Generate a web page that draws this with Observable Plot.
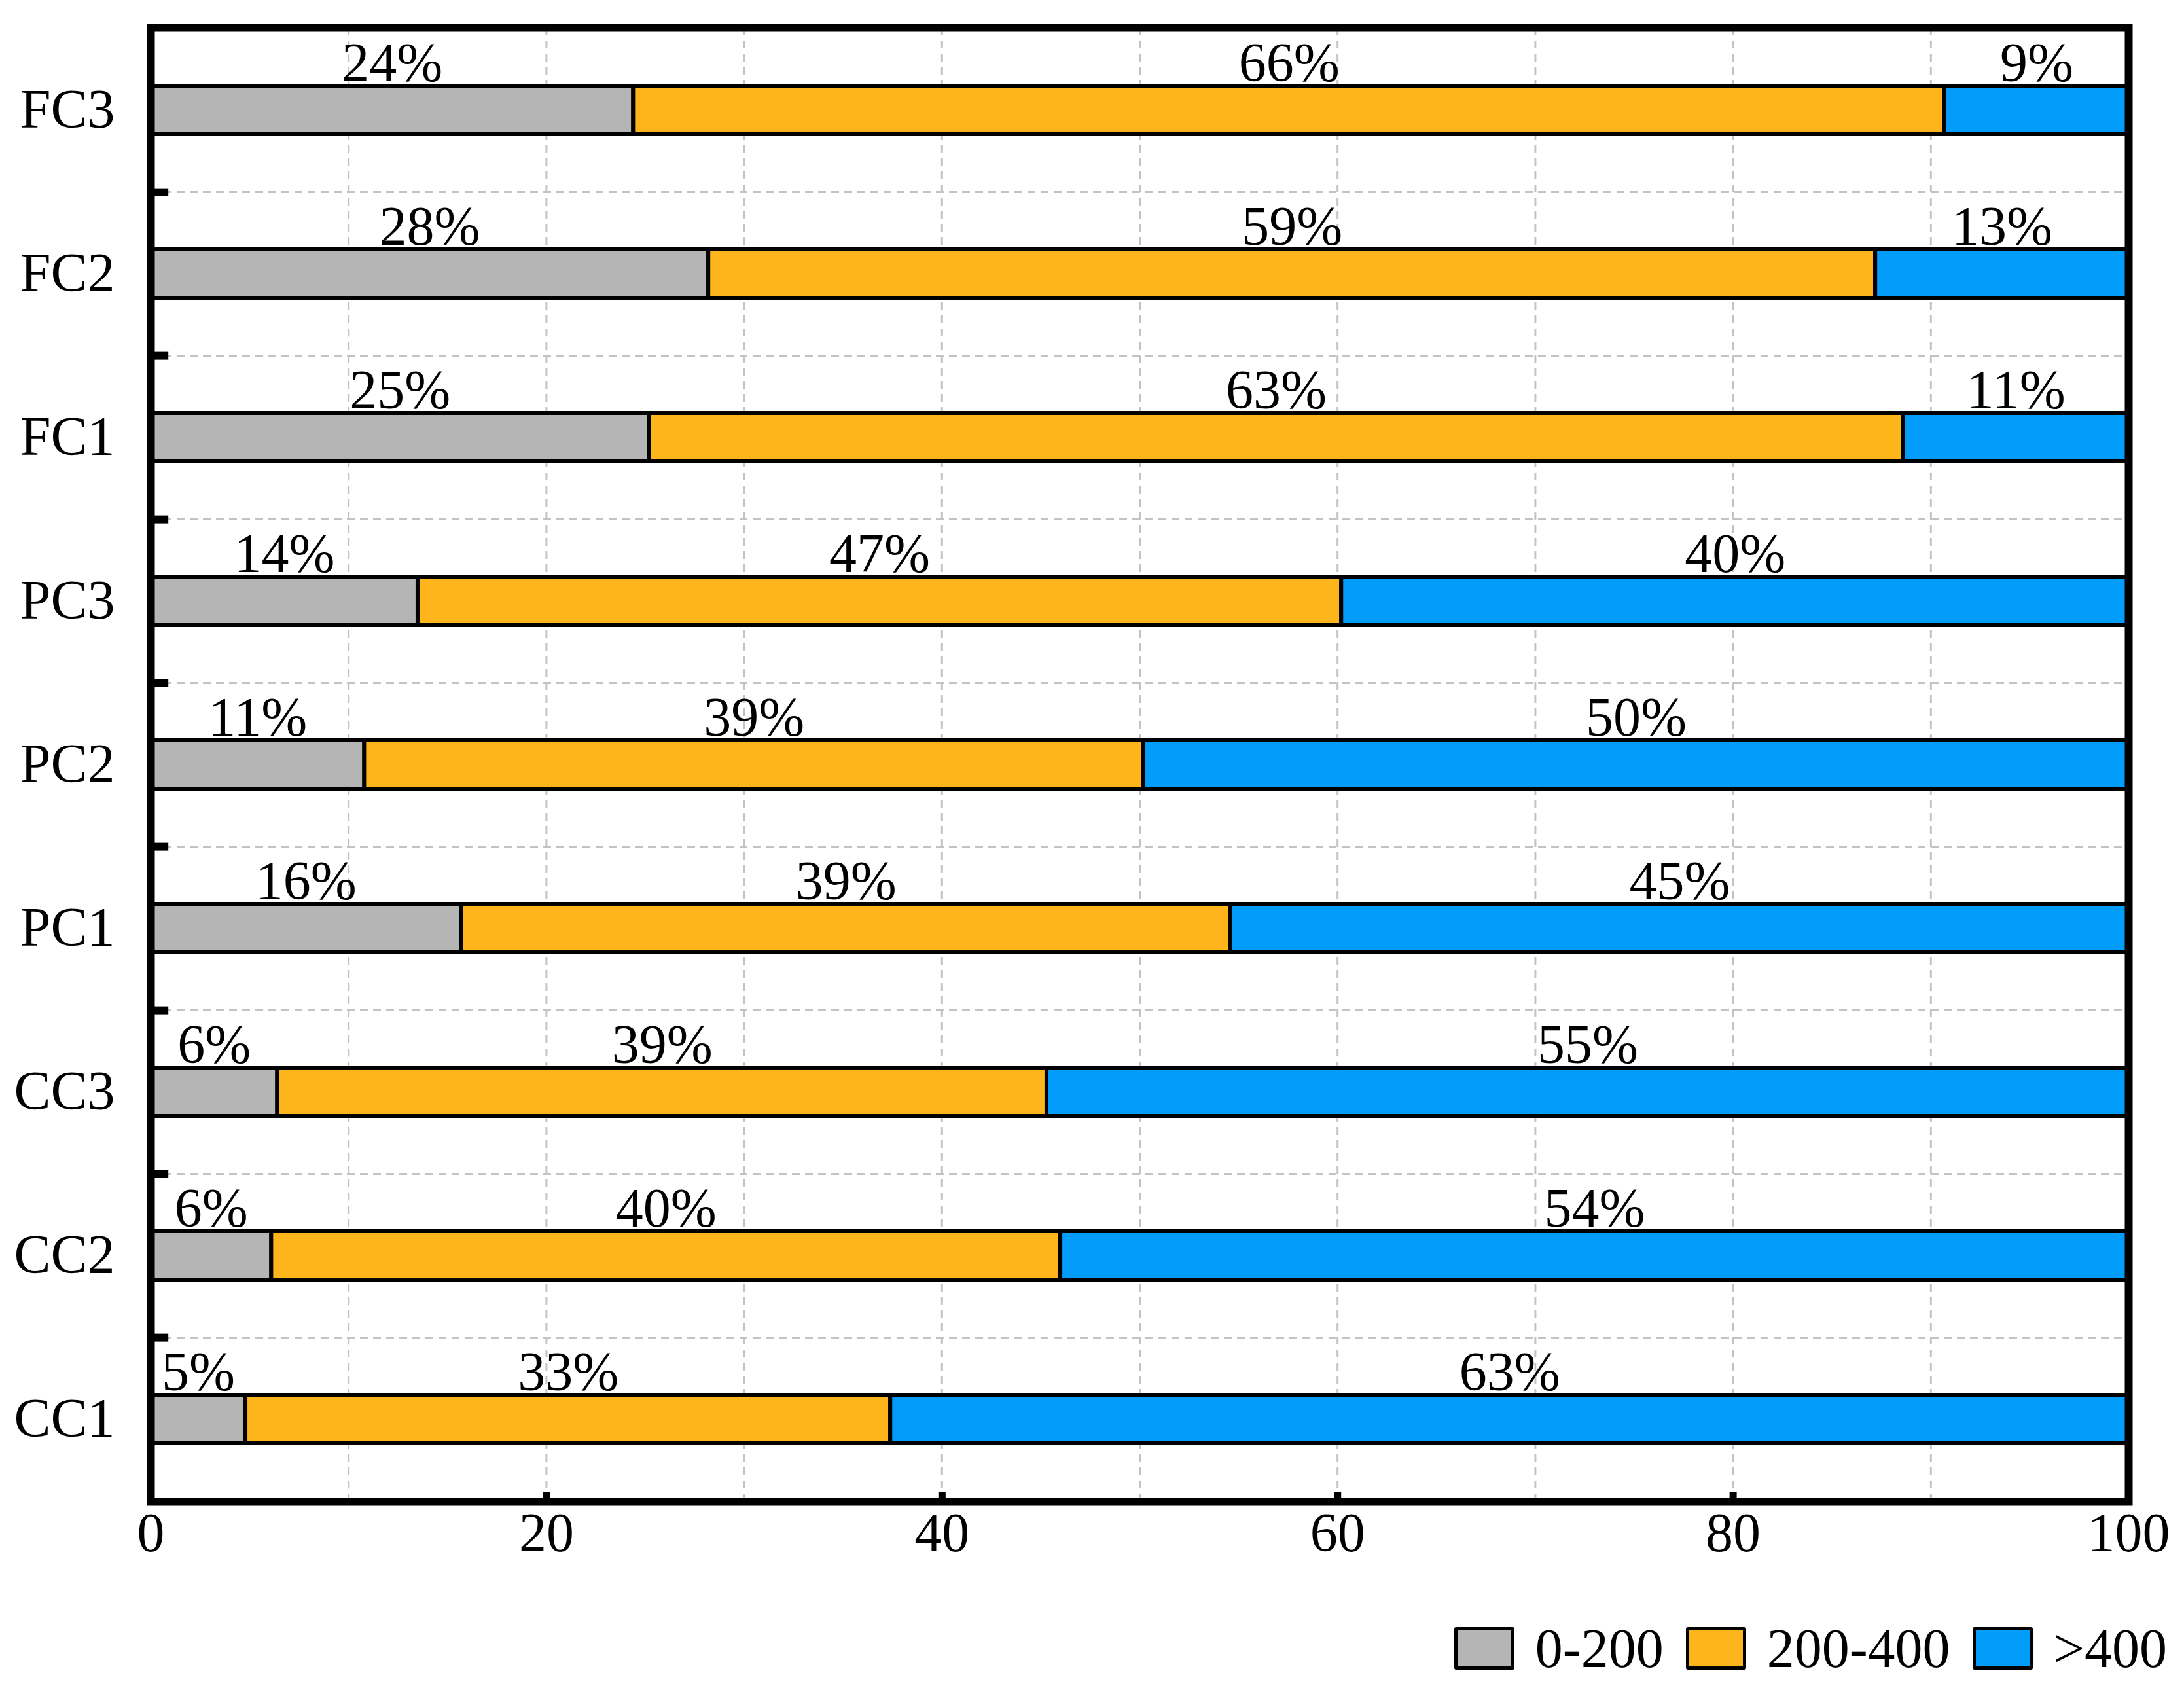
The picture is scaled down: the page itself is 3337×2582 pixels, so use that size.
<!DOCTYPE html>
<html>
<head>
<meta charset="utf-8">
<script src="https://cdn.jsdelivr.net/npm/d3@7"></script>
<script src="https://cdn.jsdelivr.net/npm/@observablehq/plot@0.6"></script>
<style>
  html, body { margin: 0; padding: 0; background: #fff; }
  #chart { width: 3337px; }
  .legend {
    display: flex; justify-content: flex-end; align-items: center;
    margin-top: 66px; padding-right: 26px; height: 65px;
    font-family: "Liberation Serif", "Times New Roman", serif; font-size: 84px; color: #000;
  }
  .item { display: flex; align-items: center; margin-left: 34px; }
  .sw { width: 92px; height: 65px; box-sizing: border-box; border: 5px solid #000; border-radius: 3px; }
  .lab { margin-left: 32px; line-height: 1; }
</style>
</head>
<body>
<div id="chart"></div>
<script>
// ---- data ----
const categories = ["FC3", "FC2", "FC1", "PC3", "PC2", "PC1", "CC3", "CC2", "CC1"];
const series = ["0-200", "200-400", ">400"];
const colors = ["#b5b5b5", "#feb51c", "#029cfa"];
const share0to200   = [24.4, 28.2, 25.2, 13.5, 10.8, 15.7, 6.4, 6.1, 4.8];
const share200to400 = [66.3, 59.0, 63.4, 46.7, 39.4, 38.9, 38.9, 39.9, 32.6];
const shareOver400  = [9.3, 12.8, 11.4, 39.8, 49.8, 45.4, 54.7, 54.0, 62.6];
const xTicks = [0, 20, 40, 60, 80, 100];
const xGrid = [10, 20, 30, 40, 50, 60, 70, 80, 90];

const seriesValues = [share0to200, share200to400, shareOver400];
const rows = [];
categories.forEach((c, i) => {
  seriesValues.forEach((arr, k) => rows.push({category: c, series: series[k], value: arr[i]}));
});

// ---- layout ----
const W = 3337, H = 2420;
const mT = 42, mB = 126, mL = 230, mR = 85;
const bw = (H - mT - mB) / categories.length;
const gridStyle = {stroke: "#c3c3c3", strokeWidth: 3, strokeDasharray: "12,8"};

const chart = Plot.plot({
  width: W, height: H,
  marginTop: mT, marginBottom: mB, marginLeft: mL, marginRight: mR,
  style: {fontFamily: "Liberation Serif, Times New Roman, serif", fontSize: "84px", color: "#000", background: "#fff"},
  x: {domain: [0, 100], label: null},
  y: {domain: categories, padding: 0, label: null},
  color: {domain: series, range: colors},
  marks: [
    Plot.ruleX(xGrid, gridStyle),
    Plot.ruleY(categories.slice(0, -1), {...gridStyle, dy: bw / 2}),
    Plot.barX(rows, {x: "value", y: "category", fill: "series", stroke: "#000", strokeWidth: 6, insetTop: 88, insetBottom: 88}),
    Plot.text(rows, Plot.stackX({x: "value", y: "category", text: d => Math.round(d.value) + "%", dy: -45, lineAnchor: "bottom", fill: "#000"})),
    Plot.ruleY(categories.slice(0, -1), {x1: 0, x2: 0.9, dy: bw / 2, stroke: "#000", strokeWidth: 12}),
    Plot.tickX(xTicks.slice(1, -1), {x: d => d, y: () => categories[categories.length - 1], insetTop: bw - 14, stroke: "#000", strokeWidth: 11}),
    Plot.frame({stroke: "#000", strokeWidth: 12}),
    Plot.axisX({ticks: xTicks, tickSize: 0, tickPadding: 16, label: null}),
    Plot.axisY({tickSize: 0, tickPadding: 55, label: null})
  ]
});
document.getElementById("chart").appendChild(chart);

// ---- legend (below the SVG) ----
const legend = document.createElement("div");
legend.className = "legend";
series.forEach((s, k) => {
  const item = document.createElement("div");
  item.className = "item";
  const sw = document.createElement("div");
  sw.className = "sw";
  sw.style.background = colors[k];
  const lab = document.createElement("span");
  lab.className = "lab";
  lab.textContent = s;
  item.appendChild(sw);
  item.appendChild(lab);
  legend.appendChild(item);
});
document.getElementById("chart").appendChild(legend);
</script>
</body>
</html>
